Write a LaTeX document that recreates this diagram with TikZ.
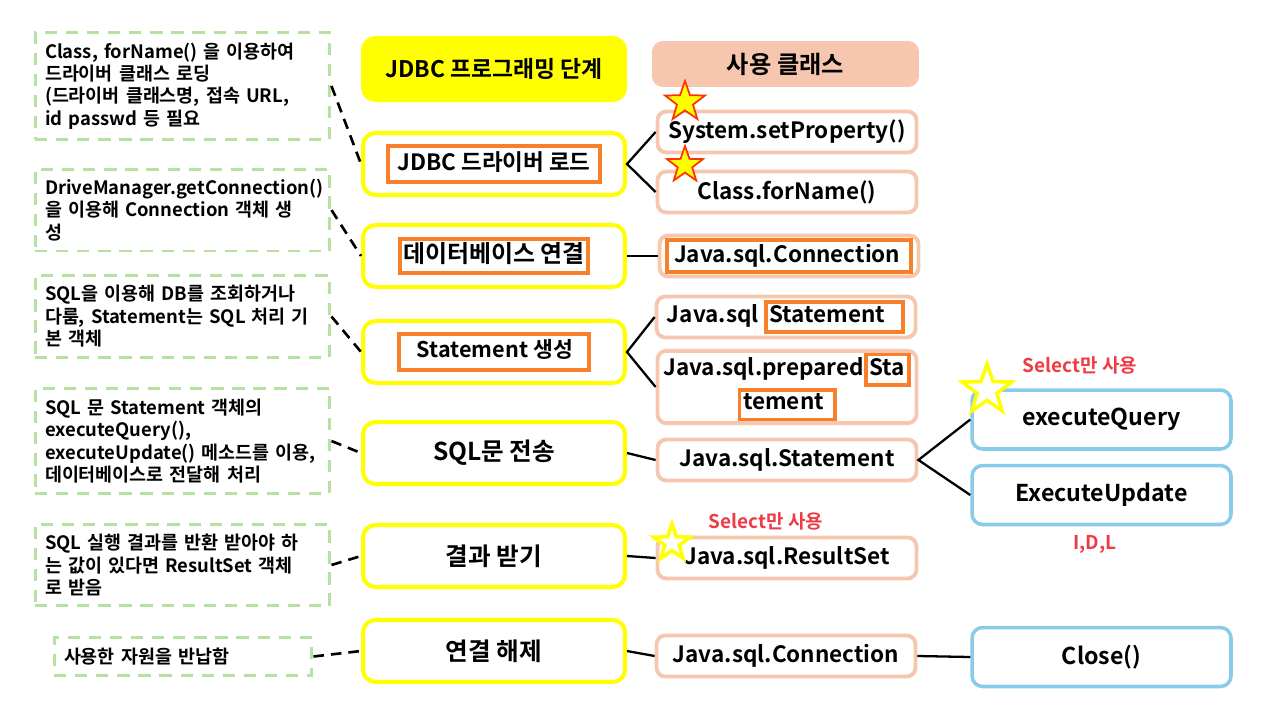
\documentclass[tikz,border=0pt]{standalone}
\usepackage{fontspec}
\setmainfont{Noto Sans CJK KR}[BoldFont={* Bold}]
\usetikzlibrary{shapes.geometric}
\definecolor{stageyellow}{HTML}{FFFF00}
\definecolor{clspeach}{HTML}{F6C7AE}
\definecolor{methblue}{HTML}{89CBEA}
\definecolor{notegreen}{HTML}{B6E2A1}
\definecolor{hlorange}{HTML}{F9802A}
\definecolor{hintred}{HTML}{EE3B45}
\definecolor{starred}{HTML}{FF3300}
\newcommand{\orbox}[2][2pt]{{\setlength{\fboxsep}{#1}\setlength{\fboxrule}{2.2pt}\fcolorbox{hlorange}{white}{\strut #2}}}
\begin{document}
\begin{tikzpicture}[x=0.02cm, y=-0.02cm,
    stage/.style={draw=stageyellow, line width=2.3pt, rounded corners=7pt, fill=white, minimum width=5.24cm, minimum height=1.24cm, font=\bfseries\fontsize{14}{16}\selectfont},
    cls/.style={draw=clspeach, line width=2.2pt, rounded corners=5pt, fill=white, minimum width=5.18cm, minimum height=0.82cm, inner sep=1pt, font=\bfseries\fontsize{12.8}{14}\selectfont},
    meth/.style={draw=methblue, line width=2pt, rounded corners=6pt, fill=white, minimum width=5.18cm, minimum height=1.18cm, font=\bfseries\fontsize{13.2}{15}\selectfont},
    note/.style={draw=notegreen, line width=1.7pt, dash pattern=on 7pt off 5pt, text width=5.5cm, inner sep=0.2cm, align=left, font=\bfseries\fontsize{10.5}{12.8}\selectfont},
    hint/.style={text=hintred, font=\bfseries\fontsize{10.8}{12}\selectfont},
    fullstar/.style={star, star points=5, star point ratio=2.5, draw=starred, fill=stageyellow, line width=1pt, inner sep=0pt},
    hollowstar/.style={star, star points=5, star point ratio=2.5, draw=stageyellow, fill=white, line width=2pt, inner sep=0pt},
    link/.style={line width=1.3pt},
    hint link/.style={line width=1.5pt, dash pattern=on 6pt off 4pt}]
\useasboundingbox (0,0) rectangle (1280,720);

\node[note, minimum height=2.04cm] (a1) at (182.5,86) {Class, forName() 을 이용하여\\드라이버 클래스 로딩\\(드라이버 클래스명, 접속 URL,\\id passwd 등 필요};
\node[note, minimum height=1.56cm] (a2) at (182.5,210) {DriveManager.getConnection()\\을 이용해 Connection 객체 생\\성};
\node[note, minimum height=1.54cm] (a3) at (182.5,316.5) {SQL을 이용해 DB를 조회하거나\\다룸, Statement는 SQL 처리 기\\본 객체};
\node[note, minimum height=2cm] (a4) at (182.5,441) {SQL 문 Statement 객체의\\executeQuery(),\\executeUpdate() 메소드를 이용,\\데이터베이스로 전달해 처리};
\node[note, minimum height=1.56cm] (a5) at (182.5,565) {SQL 실행 결과를 반환 받아야 하\\는 값이 있다면 ResultSet 객체\\로 받음};
\node[note, minimum height=0.66cm, text width=4.76cm] (a6) at (183,656.5) {사용한 자원을 반납함};

\node[stage, fill=stageyellow, font=\bfseries\fontsize{13}{15}\selectfont] (title) at (494,69) {JDBC 프로그래밍 단계};
\node[stage, font=\bfseries\fontsize{12.8}{12}\selectfont] (b1) at (494,164) {\orbox[2pt]{\hspace{2pt}JDBC 드라이버 로드\hspace{2pt}}};
\node[stage, font=\bfseries\fontsize{13.6}{14}\selectfont] (b2) at (494,256) {\orbox[1pt]{데이터베이스 연결}};
\node[stage, font=\bfseries\fontsize{12.3}{13}\selectfont] (b3) at (494,352) {\orbox[2pt]{\hspace{7pt}Statement 생성\hspace{6pt}}};
\node[stage] (b4) at (494,453) {SQL문 전송};
\node[stage] (b5) at (494,556) {결과 받기};
\node[stage] (b6) at (494,651) {연결 해제};

\node[cls, fill=clspeach, minimum width=5.26cm, minimum height=0.84cm, font=\bfseries\fontsize{13.8}{15}\selectfont] (clshead) at (785.5,64) {사용 클래스};
\node[cls] (c1) at (787,132) {System.setProperty()};
\node[cls] (c2) at (787,192) {Class.forName()};
\node[cls, font=\bfseries\fontsize{12.8}{11}\selectfont] (c3) at (789,256) {\orbox[1pt]{\hspace{2pt}Java.sql.Connection\hspace{4pt}}};
\node[cls, font=\bfseries\fontsize{12.8}{11}\selectfont] (c4) at (786,317) {Java.sql \orbox[1pt]{Statement\hspace{8pt}}};
\node[cls, minimum height=1.28cm, align=center, font=\bfseries\fontsize{12.8}{11}\selectfont] (c5) at (787,387) {Java.sql.prepared\orbox[1pt]{Sta}\\\orbox[1pt]{tement\hspace{4pt}}};
\node[cls] (c6) at (787,460) {Java.sql.Statement};
\node[cls] (c7) at (787,558) {Java.sql.ResultSet};
\node[cls] (c8) at (786,656) {Java.sql.Connection};

\node[meth] (d1) at (1101.5,419.5) {executeQuery};
\node[meth] (d2) at (1101.5,495) {ExecuteUpdate};
\node[meth] (d3) at (1101.5,657) {Close()};

\node[hint] (r1) at (1080,365) {Select만 사용};
\node[hint] (r2) at (766,521) {Select만 사용};
\node[hint] (r3) at (1095,544) {I,D,L};

\draw[hint link] (a1.east)--(b1.west);
\draw[hint link] (a2.east)--(b2.west);
\draw[hint link] (a3.east)--(b3.west);
\draw[hint link] (a4.east)--(b4.west);
\draw[hint link] (a5.east)--(b5.west);
\draw[hint link] (a6.east)--(b6.west);

\draw[link] (c1.west)--(b1.east)--(c2.west);
\draw[link] (b2.east)--(c3.west);
\draw[link] (c4.west)--(b3.east)--(c5.west);
\draw[link] (b4.east)--(c6.west);
\draw[link] (b5.east)--(c7.west);
\draw[link] (b6.east)--(c8.west);
\draw[link] (d1.west)--(c6.east)--(d2.west);
\draw[link] (c8.east)--(d3.west);

\node[fullstar, minimum size=0.84cm] (s1) at (685,102) {};
\node[fullstar, minimum size=0.76cm] (s2) at (685,165) {};
\node[hollowstar, minimum size=1.04cm] (s3) at (987,390) {};
\node[hollowstar, minimum size=0.76cm] (s4) at (672,543) {};
\end{tikzpicture}
\end{document}
